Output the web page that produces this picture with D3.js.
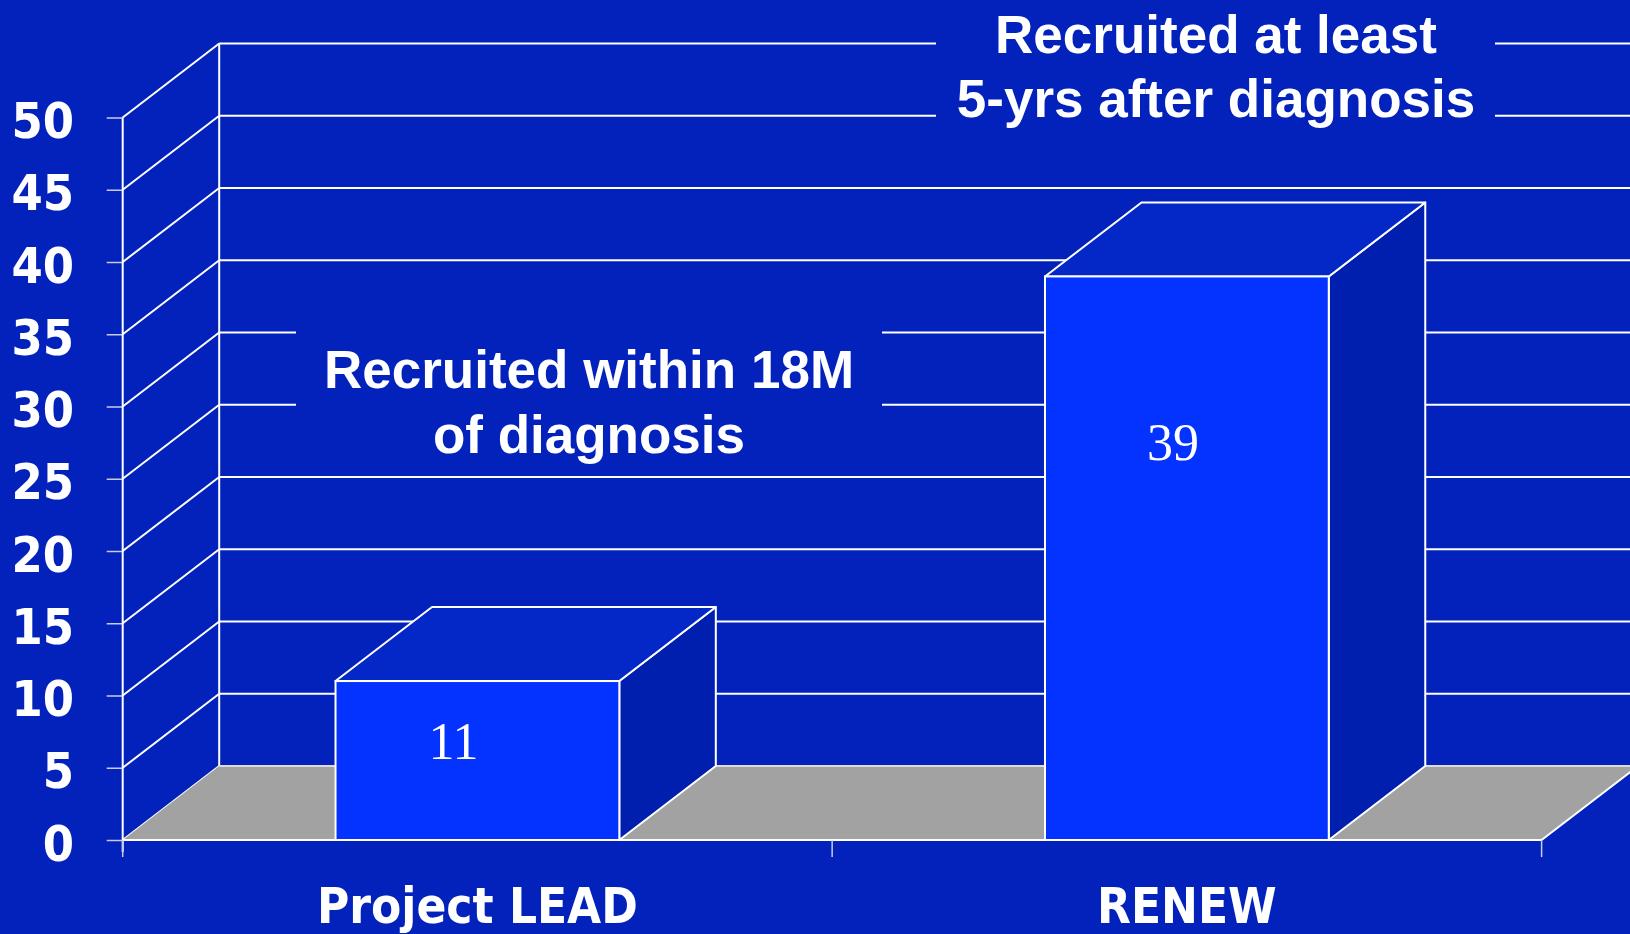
<!DOCTYPE html>
<html>
<head>
<meta charset="utf-8">
<script src="https://cdn.jsdelivr.net/npm/d3@7"></script>
<style>
    html, body { margin: 0; padding: 0; background: #0222bb; overflow: hidden; }
    #chart { width: 1630px; height: 934px; }
</style>
</head>
<body>
<div id="chart"></div>
<script>
// chart data
const categories = ["Project LEAD", "RENEW"];
const values = [11, 39];
const yTicks = [0, 5, 10, 15, 20, 25, 30, 35, 40, 45, 50];
const notes = [
    ["Recruited within 18M", "of diagnosis"],
    ["Recruited at least", "5-yrs after diagnosis"]
];

document.addEventListener("DOMContentLoaded", function () {
    const width = 1630, height = 934;
    const bg = "#0222bb";

    // depth of the 3d box (back wall offset)
    const depthX = 96.5, depthY = -74;

    const svg = d3.select("#chart")
        .append("svg")
        .attr("width", width)
        .attr("height", height);

    svg.append("rect")
        .attr("width", width)
        .attr("height", height)
        .attr("fill", bg);

    const x = d3.scaleBand()
        .domain(categories)
        .range([122.7, 1541.6])
        .padding(0);

    const y = d3.scaleLinear()
        .domain([0, 50])
        .range([840, 117.5]);

    const x0 = x.range()[0];
    const x1 = x.range()[1];

    // back wall gridlines
    svg.append("g").selectAll("line")
        .data(yTicks.filter(d => d > 0))
        .enter()
        .append("line")
        .attr("x1", x0 + depthX)
        .attr("x2", width + 20)
        .attr("y1", d => y(d) + depthY)
        .attr("y2", d => y(d) + depthY)
        .attr("stroke", "white")
        .attr("stroke-width", 2);

    // text boxes sit on top of the gridlines (filled with background)
    const noteBoxes = [
        { x: 296, y: 290, w: 586, h: 170, cx: 589, base: 388, lh: 65 },
        { x: 936, y: -5, w: 559, h: 160, cx: 1216, base: 52.7, lh: 64 }
    ];

    // side wall diagonals
    svg.append("g").selectAll("line")
        .data(yTicks)
        .enter()
        .append("line")
        .attr("x1", x0)
        .attr("y1", d => y(d))
        .attr("x2", x0 + depthX)
        .attr("y2", d => y(d) + depthY)
        .attr("stroke", "white")
        .attr("stroke-width", 2);

    // back wall left edge
    svg.append("line")
        .attr("x1", x0 + depthX).attr("x2", x0 + depthX)
        .attr("y1", y(0) + depthY).attr("y2", y(50) + depthY)
        .attr("stroke", "white")
        .attr("stroke-width", 2);

    // floor
    svg.append("polygon")
        .attr("points", [
            [x0, y(0)], [x1, y(0)],
            [x1 + depthX, y(0) + depthY], [x0 + depthX, y(0) + depthY]
        ].map(p => p.join(",")).join(" "))
        .attr("fill", "#a2a2a2");

    svg.append("line")
        .attr("x1", x0 + depthX).attr("x2", width + 20)
        .attr("y1", y(0) + depthY).attr("y2", y(0) + depthY)
        .attr("stroke", "#dcdcdc")
        .attr("stroke-width", 2);

    svg.append("line")
        .attr("x1", x1).attr("y1", y(0))
        .attr("x2", x1 + depthX).attr("y2", y(0) + depthY)
        .attr("stroke", "white")
        .attr("stroke-width", 2);

    // bars
    const barW = x.bandwidth() * 0.4;
    const bars = svg.append("g").selectAll("g")
        .data(values.map((v, i) => ({ cat: categories[i], value: v })))
        .enter()
        .append("g");

    const left = d => x(d.cat) + (x.bandwidth() - barW) / 2;

    // side face
    bars.append("polygon")
        .attr("points", d => {
            const l = left(d) + barW;
            return [[l, y(d.value)], [l + depthX, y(d.value) + depthY],
                    [l + depthX, y(0) + depthY], [l, y(0)]].map(p => p.join(",")).join(" ");
        })
        .attr("fill", "#001fae")
        .attr("stroke", "white")
        .attr("stroke-width", 2)
        .attr("stroke-linejoin", "round");

    // top face
    bars.append("polygon")
        .attr("points", d => {
            const l = left(d);
            return [[l, y(d.value)], [l + depthX, y(d.value) + depthY],
                    [l + barW + depthX, y(d.value) + depthY], [l + barW, y(d.value)]]
                .map(p => p.join(",")).join(" ");
        })
        .attr("fill", "#0427c8")
        .attr("stroke", "white")
        .attr("stroke-width", 2)
        .attr("stroke-linejoin", "round");

    // front face
    bars.append("rect")
        .attr("x", d => left(d))
        .attr("y", d => y(d.value))
        .attr("width", barW)
        .attr("height", d => y(0) - y(d.value))
        .attr("fill", "#0433ff")
        .attr("stroke", "white")
        .attr("stroke-width", 2);

    // value labels (nudged like in the original slide)
    const labelNudge = [[-24, 78], [-14, 184]];
    bars.append("text")
        .attr("x", (d, i) => left(d) + barW / 2 + labelNudge[i][0])
        .attr("y", (d, i) => y(d.value) + labelNudge[i][1])
        .attr("text-anchor", "middle")
        .attr("font-family", "'Liberation Serif', 'Times New Roman', serif")
        .attr("font-size", "52px")
        .attr("fill", "white")
        .text(d => d.value);

    // front floor edge
    svg.append("line")
        .attr("x1", x0).attr("x2", x1)
        .attr("y1", y(0)).attr("y2", y(0))
        .attr("stroke", "white")
        .attr("stroke-width", 2);

    // y axis
    const yAxis = svg.append("g")
        .attr("transform", `translate(${x0},0)`)
        .call(d3.axisLeft(y).tickValues(yTicks).tickSize(16).tickPadding(32).tickSizeOuter(0));
    yAxis.select(".domain").remove();
    yAxis.append("line")
        .attr("x1", 0).attr("x2", 0)
        .attr("y1", y(50)).attr("y2", y(0) + 12)
        .attr("stroke", "white")
        .attr("stroke-width", 2);
    yAxis.selectAll(".tick line")
        .attr("stroke", "#c8cce8")
        .attr("stroke-width", 1.5);
    yAxis.selectAll(".tick text")
        .attr("fill", "white")
        .attr("x", 74 - x0)
        .attr("dy", "0.4em")
        .attr("font-family", "'DejaVu Sans Condensed', 'DejaVu Sans', sans-serif")
        .attr("font-stretch", "condensed")
        .attr("font-weight", "bold")
        .attr("font-size", "50px");

    // x axis ticks at band edges
    svg.append("g").selectAll("line")
        .data(d3.range(categories.length + 1))
        .enter()
        .append("line")
        .attr("x1", i => x0 + i * x.step())
        .attr("x2", i => x0 + i * x.step())
        .attr("y1", y(0))
        .attr("y2", y(0) + 17)
        .attr("stroke", "#c8cce8")
        .attr("stroke-width", 1.5);

    svg.append("g").selectAll("text")
        .data(categories)
        .enter()
        .append("text")
        .attr("x", d => x(d) + x.bandwidth() / 2)
        .attr("y", 923)
        .attr("text-anchor", "middle")
        .attr("font-family", "'DejaVu Sans Condensed', 'DejaVu Sans', sans-serif")
        .attr("font-stretch", "condensed")
        .attr("font-weight", "bold")
        .attr("font-size", "49px")
        .attr("fill", "white")
        .text(d => d);

    // annotation text boxes
    noteBoxes.forEach((b, i) => {
        svg.append("rect")
            .attr("x", b.x).attr("y", b.y)
            .attr("width", b.w).attr("height", b.h)
            .attr("fill", bg);
        notes[i].forEach((line, k) => {
            svg.append("text")
                .attr("x", b.cx)
                .attr("y", b.base + k * b.lh)
                .attr("text-anchor", "middle")
                .attr("font-family", "'Liberation Sans', Arial, sans-serif")
                .attr("font-weight", "bold")
                .attr("font-size", "53px")
                .attr("fill", "white")
                .text(line);
        });
    });
});
</script>
</body>
</html>
